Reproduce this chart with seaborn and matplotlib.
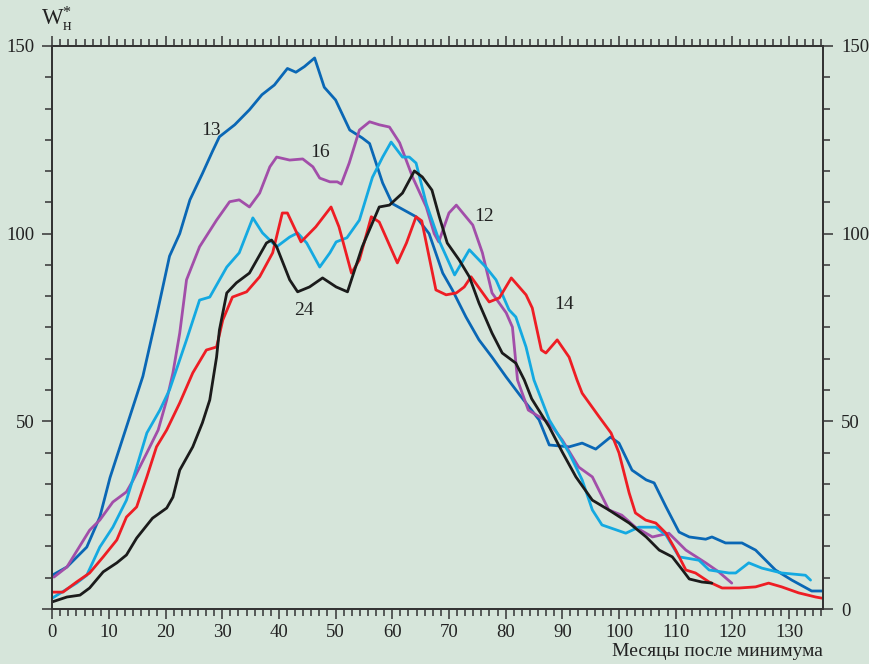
import numpy as np
import pandas as pd
import seaborn as sns
import matplotlib.pyplot as plt
from matplotlib.ticker import MultipleLocator

# cycle 13 (dark blue)
c13_x = [0, 2.6, 6.1, 8.4, 10.2, 13.1, 16, 18.4, 20.7, 22.5, 24.3, 26.5, 28.3, 29.5, 32.2, 34.8,
         37, 39.2, 41.5, 43, 44.5, 46.3, 48, 50, 52.5, 54.7, 56, 58.3, 60, 63, 64.2, 66.5, 68.9,
         70.6, 73, 75.3, 77.6, 80.1, 82.5, 85.9, 87.7, 91.2, 93.5, 95.9, 98.5, 100, 102.3, 104.8,
         106.2, 108.3, 110.6, 112.4, 115.3, 116.4, 118.8, 121.7, 124.1, 127.6, 130.5, 134, 136]
c13_y = [9, 11.2, 16.5, 24.5, 35, 48.5, 62, 78, 94, 100, 109, 116, 122, 125.8, 129, 133,
         137, 139.6, 144, 143, 144.5, 146.8, 139, 135.6, 127.6, 125.5, 124, 113.5, 108, 105.5, 104.5, 100, 89.5,
         85, 77.8, 71.7, 67.1, 61.8, 57, 50.4, 43.7, 43.2, 44.2, 42.6, 45.8, 44.2, 37, 34.4,
         33.6, 27.2, 20.5, 19.2, 18.6, 19.2, 17.6, 17.6, 15.7, 10.4, 7.7, 4.8, 4.8]

# cycle 16 (purple)
c16_x = [0.3, 2.6, 6.6, 8.4, 10.7, 13.1, 14.3, 16.7, 18.7, 20.2, 21.3, 22.5, 23.7, 26, 29, 31.3,
         33, 34.8, 36.6, 38.4, 39.6, 41.9, 44.2, 46, 47.2, 49, 50.3, 51, 52.4, 54.2, 56, 57.7,
         59.5, 61.3, 63.6, 66, 67.4, 68.2, 70, 71.3, 74.2, 75.9, 77.6, 80.1, 81.2, 82.1, 84, 87.7,
         90, 92.9, 95.3, 98.2, 100.5, 102.9, 105.9, 108.8, 111.8, 115.3, 117.6, 119.9]
c16_y = [8.5, 11.2, 21, 23.7, 28.5, 31.2, 34.4, 41.6, 47.7, 55.7, 62.9, 73.5, 87.7, 96.5, 103.6, 108.5,
         109, 107.1, 110.8, 117.8, 120.4, 119.6, 119.9, 117.8, 114.8, 113.8, 113.8, 113.2, 118.8, 127.6, 129.8, 129,
         128.4, 124.2, 115, 107.1, 100, 97.8, 105.5, 107.6, 102.3, 94.9, 84.2, 78.9, 75.1, 61, 53, 49.6,
         45, 37.8, 35.2, 26.4, 25, 21.8, 19.2, 20.2, 15.7, 12.3, 9.9, 6.9]

# cycle 12 (light blue)
c12_x = [0, 4.3, 6.1, 8.4, 10.7, 13.1, 14.9, 16.7, 19, 20.7, 23.7, 26, 27.8, 30.8, 33, 35.4,
         37.1, 39.6, 41.9, 43.3, 44.9, 47.2, 49, 50.1, 52, 54.2, 56.5, 58.3, 59.8, 61.8, 63, 64.2,
         66, 68.3, 71, 73.6, 76.5, 78.3, 80.6, 81.8, 83.6, 85, 87.7, 91.2, 93.5, 95.3, 97, 101.2,
         103.5, 106.5, 108.3, 110.6, 114.1, 115.9, 119.4, 120.6, 122.9, 125.2, 128.7, 132.9, 133.8]
c12_y = [2.9, 6.9, 9, 16.5, 21.8, 29, 37.8, 46.9, 53, 58.4, 71.7, 82.3, 83.1, 91.1, 94.9, 104.2,
         100.2, 96.5, 99.1, 100.2, 97.5, 91.1, 94.9, 97.8, 98.9, 103.6, 115, 120.4, 124.4, 120.4, 120.4, 118.8,
         108, 98, 89, 95.7, 91.1, 87.7, 79.7, 77.8, 69.8, 61, 50.4, 41.6, 34.4, 26.4, 22.4, 20.2,
         21.8, 21.8, 19.7, 13.9, 13, 10.4, 9.6, 9.6, 12.3, 10.9, 9.6, 9, 7.7]

# cycle 14 (red)
c14_x = [0, 1.9, 4.3, 6.6, 9, 11.4, 13.1, 14.9, 16.7, 18.4, 20.2, 22.5, 24.8, 27.2, 29, 30.1,
         31.8, 34.3, 36.6, 38.9, 40.6, 41.5, 43.9, 46.5, 49.2, 50.6, 52.8, 54.2, 56.3, 57.7, 60.9, 62.5,
         64.2, 65.2, 67.7, 69.5, 71.3, 72.7, 73.9, 77.1, 78.9, 81, 83.6, 84.7, 86.3, 87.1, 89.1, 91.2,
         92.6, 93.5, 96.5, 98.6, 100, 101.8, 102.9, 104.7, 106.5, 108.3, 110, 111.8, 113.5, 115.9, 118.2, 121.2,
         124.1, 126.4, 128.7, 131.7, 134.7, 135.8]
c14_y = [4.5, 4.5, 7.2, 9.6, 13.9, 18.4, 24.5, 27.2, 35.2, 43.2, 47.7, 54.9, 62.9, 69, 69.8, 77,
         83.1, 84.5, 88.5, 94.9, 105.5, 105.5, 97.8, 101.8, 107.1, 101.8, 89.5, 93, 104.5, 103.1, 92.2, 97.5,
         104.5, 103.4, 85, 83.7, 84.2, 85.8, 88.5, 81.8, 82.9, 88.2, 83.7, 80.2, 69, 68.2, 71.7, 67.1,
         61, 57.5, 51.2, 46.9, 41.6, 30.9, 25.6, 23.7, 22.9, 20.2, 15.7, 10.4, 9.6, 7.2, 5.6, 5.6,
         5.9, 6.9, 5.9, 4.3, 3.2, 2.9]

# cycle 24 (black)
c24_x = [0, 2.6, 4.9, 6.6, 9, 11.4, 13.1, 14.9, 17.7, 20.2, 21.3, 22.5, 24.8, 26.5, 27.8, 29,
         29.5, 30.8, 32.5, 34.8, 37.8, 38.7, 39.6, 41.9, 43.3, 45.4, 47.7, 50.1, 52.1, 54.7, 57.7, 59.5,
         61.8, 63.9, 65.3, 67, 68.3, 69.7, 71.8, 73.6, 75.3, 77.6, 79.4, 81.8, 83.3, 84.6, 87.7, 90,
         92.4, 95.3, 98.2, 101.8, 104.8, 107.1, 109.4, 111.2, 112.4, 114.6, 116.4]
c24_y = [1.9, 3.2, 3.7, 5.6, 9.9, 12.3, 14.4, 18.9, 24.2, 26.9, 29.8, 37, 43.2, 49.6, 55.7, 67.1,
         74.3, 84.2, 86.9, 89.5, 97.5, 98.3, 96.5, 87.7, 84.5, 85.8, 88.2, 85.8, 84.5, 96.5, 107.1, 107.6,
         110.8, 116.7, 115.1, 111.6, 104.5, 97.5, 93, 88.5, 81.5, 73.5, 68.2, 65.5, 61, 56, 48.5, 41.8,
         35.2, 29, 26.4, 22.9, 19.2, 15.7, 13.9, 10.4, 8, 7.2, 6.9]

cycles = ["13", "16", "12", "14", "24"]
colors = ["#0a67b5", "#a24ea9", "#14a9e1", "#ee1d24", "#1b1b1b"]

# label positions (month, value)
label_x = [28.1, 47.2, 76.2, 90.3, 44.5]
label_y = [127.5, 121.5, 104.5, 81.0, 79.5]

# tick labels
x_ticks = list(range(0, 131, 10))
y_ticks = [0, 50, 100, 150]
y_left_labels = ["", "50", "100", "150"]
y_right_labels = ["0", "50", "100", "150"]

bg = "#d6e5da"
axc = "#333333"
txt = "#222222"

rows = []
for name, xs, ys in zip(cycles, [c13_x, c16_x, c12_x, c14_x, c24_x],
                        [c13_y, c16_y, c12_y, c14_y, c24_y]):
    for a, b in zip(xs, ys):
        rows.append({"cycle": name, "month": a, "W": b})
df = pd.DataFrame(rows)

sns.set_theme(style="ticks")
plt.rcParams['font.family'] = ['Liberation Serif', 'DejaVu Serif']
plt.rcParams['mathtext.fontset'] = 'custom'
plt.rcParams['mathtext.rm'] = 'Liberation Serif'
plt.rcParams['mathtext.it'] = 'Liberation Serif'

fig = plt.figure(figsize=(8.7, 6.64), dpi=100, facecolor=bg)
ax = fig.add_axes([0.06, 0.0828, 0.886, 0.848])
ax.set_facecolor(bg)

sns.lineplot(data=df, x="month", y="W", hue="cycle", hue_order=cycles,
             palette=dict(zip(cycles, colors)), sort=False, estimator=None,
             units="cycle", linewidth=2.0, legend=False, ax=ax)

ax.set_xlim(0, 136)
ax.set_ylim(0, 150)
ax.set_xlabel("")
ax.set_ylabel("")

# right-hand scale as a twin axis
ax2 = ax.twinx()
ax2.set_ylim(0, 150)

for a in (ax, ax2):
    for s in a.spines.values():
        s.set_color(axc)
        s.set_linewidth(1.3)
    a.yaxis.set_minor_locator(MultipleLocator(50 / 6))
    a.set_yticks(y_ticks)
    a.tick_params(axis="y", which="both", direction="out", color=axc, width=1.1)
    a.tick_params(axis="y", which="major", length=7, labelsize=13.5, pad=6, labelcolor=txt)
    a.tick_params(axis="y", which="minor", length=5)

ax.set_yticklabels(y_left_labels)
ax2.set_yticklabels(y_right_labels)
ax.tick_params(axis="y", which="both", right=False)

ax.set_xticks(x_ticks)
ax.set_xticklabels([str(v) for v in x_ticks])
ax.xaxis.set_minor_locator(MultipleLocator(10 / 7))
ax.tick_params(axis="x", which="both", direction="out", bottom=True, top=True,
               labelbottom=True, labeltop=False, color=axc, width=1.1)
ax.tick_params(axis="x", which="major", length=7, labelsize=13.5, pad=4, labelcolor=txt)
ax.tick_params(axis="x", which="minor", length=5)

for name, lx, ly in zip(cycles, label_x, label_y):
    ax.text(lx, ly, name, fontsize=14, color=txt, ha="center", va="center")

# axis title W*н as one piece of text
fig.text(0.047, 0.962, r"W$^{*}_{\mathrm{н}}$", fontsize=16.5, color=txt,
         ha="left", va="baseline")

fig.text(0.946, 0.012, "Месяцы после минимума", fontsize=14, color=txt,
         ha="right", va="baseline")

fig.savefig("out.png", dpi=100, facecolor=bg)
